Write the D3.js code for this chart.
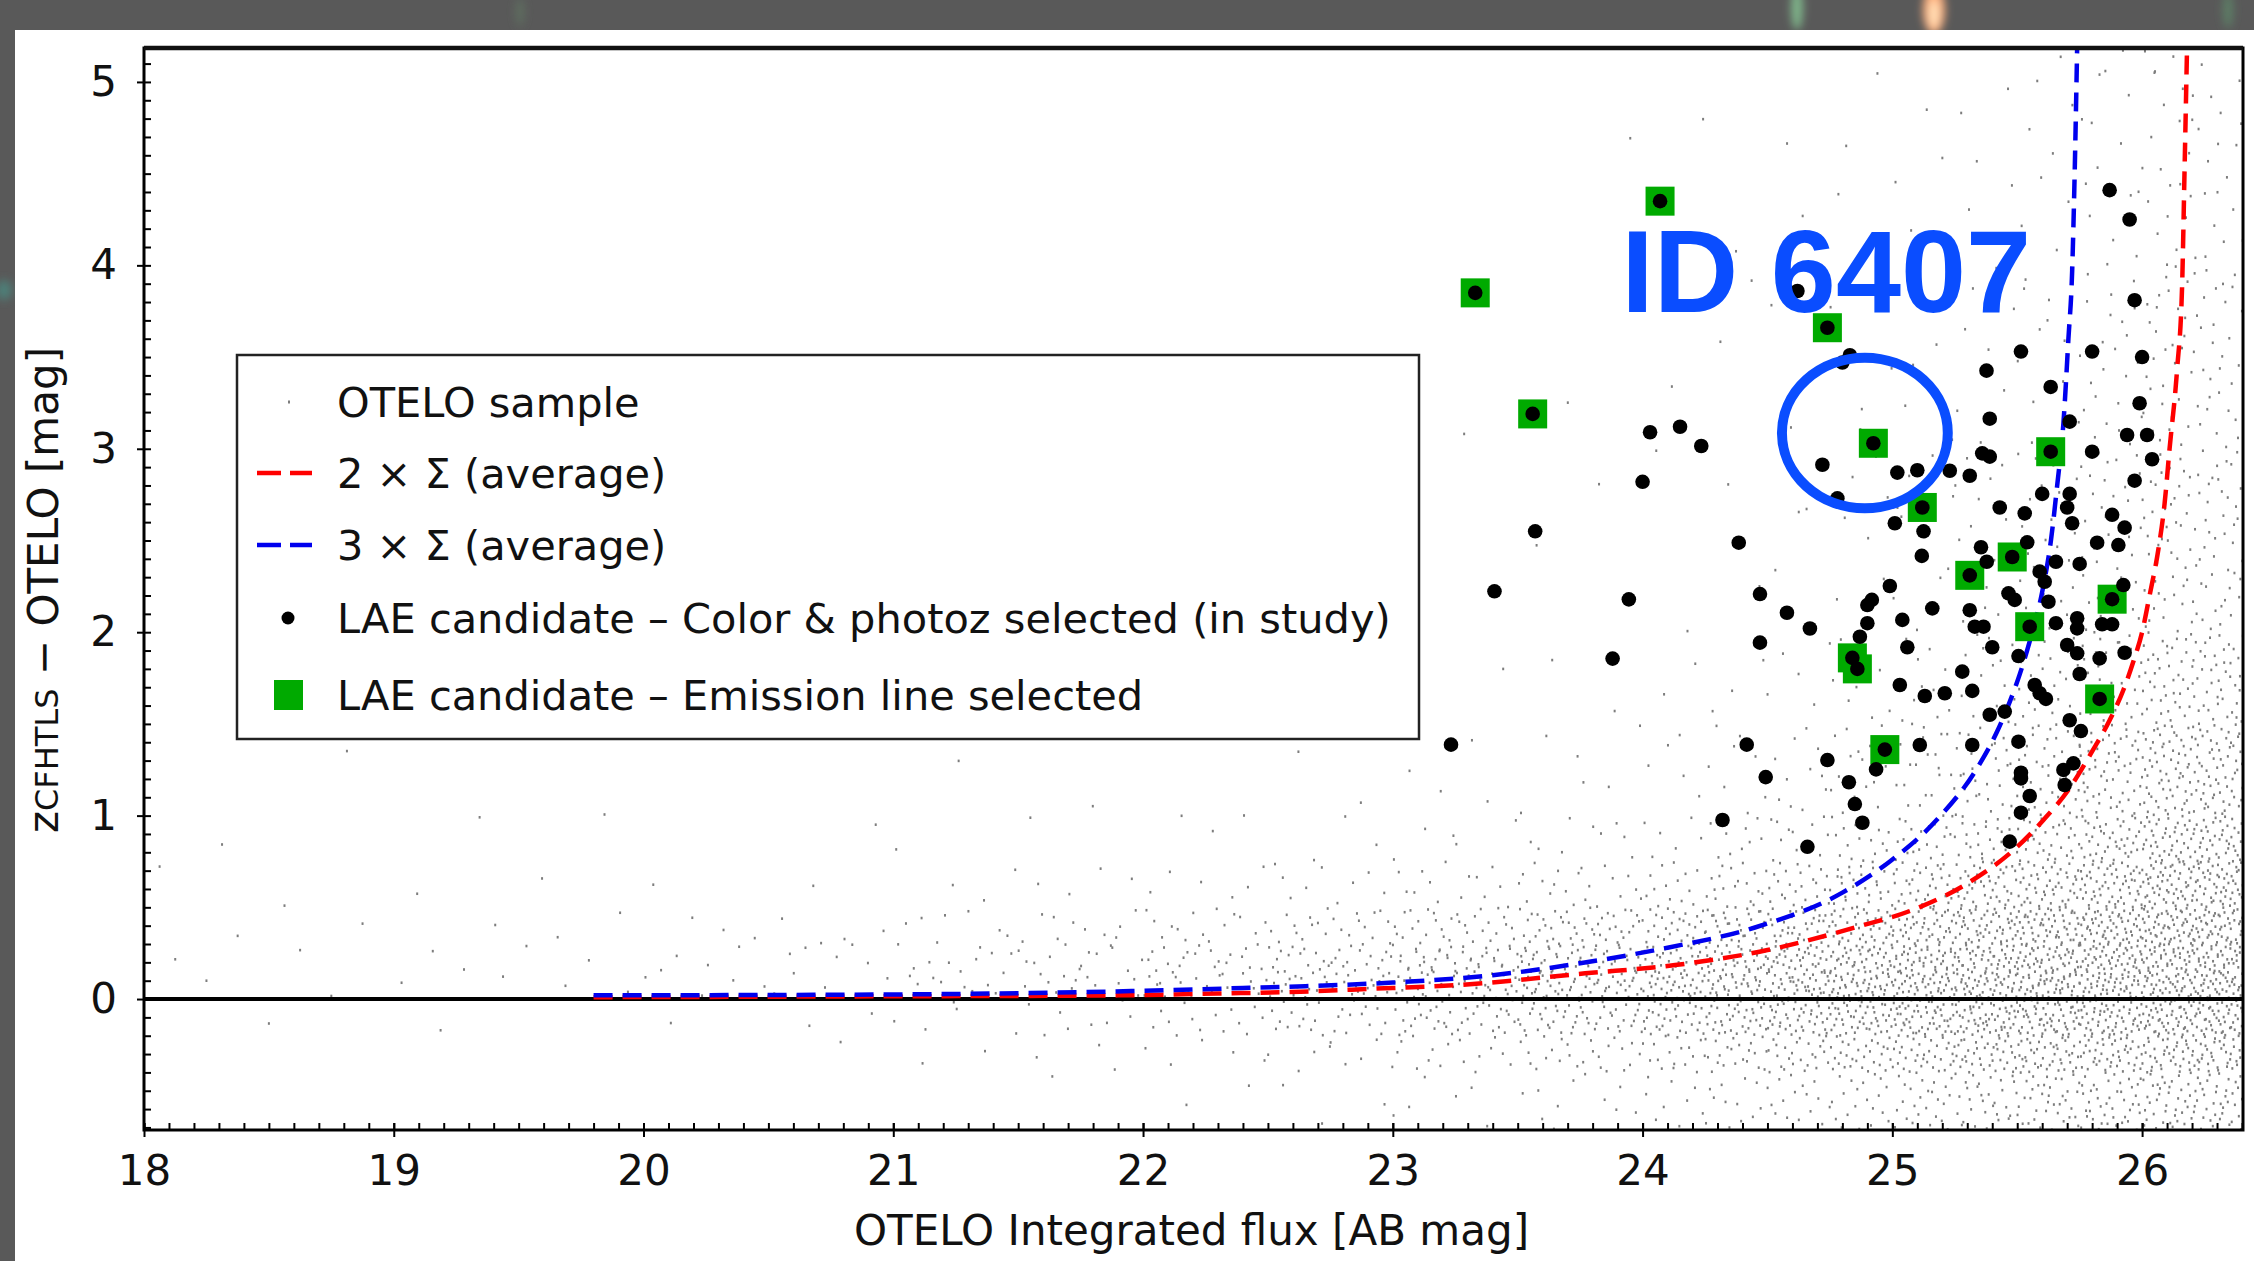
<!DOCTYPE html>
<html>
<head>
<meta charset="utf-8">
<script src="https://cdn.jsdelivr.net/npm/d3@7"></script>
<style>
  html, body { margin: 0; padding: 0; background: #595959; overflow: hidden; }
  svg { display: block; }
</style>
</head>
<body>
<svg id="chart" width="2254" height="1261" font-family="DejaVu Sans, sans-serif"></svg>
<script>
// === Data ===

// LAE candidates – colour & photo-z selected (black dots) [mag, colour]
const laeColor = [
  [24.03,3.09],[24.15,3.12],[24.235,3.015],[24.0,2.82],[23.57,2.55],[24.62,3.86],
  [24.83,3.51],[24.80,3.47],
  [25.87,4.41],[25.95,4.25],[25.97,3.81],[25.515,3.53],[25.80,3.53],[26.0,3.50],
  [25.377,3.426],[25.634,3.337],[25.99,3.248],[25.39,3.164],[25.71,3.148],[25.94,3.075],
  [26.02,3.075],[25.36,2.975],[25.39,2.957],[25.80,2.984],[26.04,2.943],[24.72,2.913],
  [25.02,2.87],[25.10,2.883],[25.23,2.88],[25.31,2.853],[25.97,2.826],[24.78,2.73],
  [25.60,2.754],[25.71,2.754],[25.43,2.68],[25.53,2.648],[25.70,2.68],[25.88,2.64],
  [25.93,2.57],[25.01,2.594],[25.72,2.594],
  [24.385,2.488],[23.407,2.223],[23.945,2.179],[24.47,2.208],[24.578,2.106],[24.67,2.02],
  [24.47,1.943],[23.88,1.856],[23.233,1.387],[24.417,1.387],[24.493,1.21],[24.32,0.976],
  [24.66,0.83],
  [25.125,2.55],[25.82,2.488],[25.905,2.475],[25.54,2.49],[25.355,2.463],[25.118,2.416],
  [25.378,2.384],[25.655,2.384],[25.75,2.372],[25.59,2.33],[25.61,2.275],[24.99,2.252],
  [24.918,2.176],[24.90,2.148],[25.465,2.212],[25.49,2.176],[25.625,2.166],[25.925,2.257],
  [25.16,2.13],[25.31,2.12],[25.04,2.067],[24.90,2.049],[25.33,2.03],[25.365,2.03],
  [25.655,2.049],[25.74,2.076],[25.74,2.021],[25.84,2.043],[25.88,2.043],[24.87,1.975],
  [25.06,1.918],[25.40,1.918],[25.70,1.93],[25.74,1.885],[25.83,1.857],[25.93,1.888],
  [25.505,1.87],[25.28,1.785],[25.75,1.772],[25.03,1.712],[25.13,1.652],[25.21,1.667],
  [25.32,1.68],[25.57,1.712],[25.59,1.667],[25.615,1.636],[25.39,1.55],[25.45,1.567],
  [25.71,1.52],[25.755,1.461],[24.74,1.303],[24.826,1.182],[24.85,1.063],[24.88,0.961],
  [24.935,1.252],[25.11,1.385],[25.32,1.385],[25.505,1.403],[25.515,1.234],[25.515,1.203],
  [25.685,1.249],[25.725,1.285],[25.69,1.167],[25.55,1.107],[25.515,1.016],[25.47,0.858]
];

// LAE candidates – emission line selected (green squares)
const laeEmission = [
  [24.07,4.35],[23.33,3.85],[24.74,3.66],[23.56,3.19],[24.924,3.03],[25.634,2.984],
  [25.12,2.68],[25.48,2.41],[25.31,2.31],[25.88,2.18],[25.55,2.03],[24.84,1.86],
  [24.86,1.80],[25.83,1.636],[24.97,1.36]
];

// 2 x Sigma (average) and 3 x Sigma (average) curves
const sigma2 = [
  [19.8,0.01],[21.0,0.015],[21.9,0.02],[22.3,0.03],[22.63,0.04],[22.9,0.055],[23.26,0.076],
  [23.77,0.14],[24.13,0.185],[24.5,0.267],[24.86,0.394],[25.08,0.485],[25.3,0.63],
  [25.5,0.83],[25.605,0.976],[25.71,1.15],[25.8,1.35],[25.87,1.52],[25.925,1.685],
  [25.965,1.84],[26.0,2.0],[26.03,2.2],[26.065,2.45],[26.09,2.7],[26.11,3.0],
  [26.14,3.43],[26.16,3.88],[26.17,4.52],[26.18,5.19]
];
const sigma3 = [
  [19.8,0.02],[20.5,0.022],[21.0,0.025],[21.4,0.03],[22.0,0.045],[22.4,0.06],[22.65,0.07],
  [23.0,0.09],[23.4,0.13],[23.75,0.195],[24.1,0.28],[24.45,0.39],[24.8,0.58],
  [24.99,0.75],[25.18,0.98],[25.34,1.26],[25.42,1.46],[25.47,1.62],[25.51,1.77],
  [25.55,1.95],[25.6,2.22],[25.635,2.5],[25.66,2.8],[25.685,3.14],[25.705,3.6],
  [25.72,3.97],[25.73,4.5],[25.74,5.19]
];

// OTELO sample: estimated source density (per mag^2) on a coarse grid
const grayXEdges = [18,19,20,20.5,21,21.5,22,22.5,23,23.5,24,24.25,24.5,24.75,25,25.25,25.5,25.75,26,26.404];
const grayYEdges = [-0.714,-0.4,-0.2,0,0.15,0.3,0.5,0.75,1.0,1.5,2.0,3.0,4.0,5.185];
const grayDensity = [
  [0,0,3,15,15,10,6,4,2,0.5,0,0,0],
  [0,2,5,25,25,15,6,3,1,0.5,0,0,0],
  [0,4,10,50,50,30,8,3,1,0,0,0,0],
  [2,6,15,70,70,40,10,4,1,0.5,0,0,0],
  [3,15,50,130,120,70,20,6,2,1,0.2,0,0],
  [5,25,80,200,170,100,30,10,3,1,0.5,0.2,0],
  [10,50,150,320,260,150,45,15,5,2,1,0.3,0.2],
  [20,90,250,450,380,220,70,25,8,3,1.5,0.5,0.3],
  [40,160,380,600,520,320,110,40,14,5,2,1,0.5],
  [70,250,520,800,680,450,170,70,25,9,4,2,1.5],
  [110,330,650,950,800,560,230,100,40,15,6,4,3],
  [150,420,780,1050,900,650,300,150,60,25,12,7,5],
  [200,500,900,1150,1000,750,380,200,90,40,18,10,7],
  [260,600,1000,1250,1100,850,460,260,130,60,28,15,10],
  [330,700,1100,1300,1150,950,560,340,180,90,42,22,14],
  [400,780,1150,1350,1200,1050,680,430,250,130,65,35,20],
  [480,850,1200,1400,1250,1150,800,550,350,190,95,50,30],
  [550,900,1200,1400,1300,1250,950,700,480,280,150,90,50],
  [600,950,1250,1400,1350,1300,1100,850,650,420,230,150,85]
];

const xMajor = [18,19,20,21,22,23,24,25,26];
const yMajor = [0,1,2,3,4,5];

const legendItems = [
  {type: 'sample', label: 'OTELO sample'},
  {type: 'line', color: '#ff0000', label: '2 × Σ (average)'},
  {type: 'line', color: '#0000ee', label: '3 × Σ (average)'},
  {type: 'dot', label: 'LAE candidate – Color & photoz selected (in study)'},
  {type: 'square', label: 'LAE candidate – Emission line selected'}
];

// annotation: object ID 6407 (data coordinates)
const annot = {label: 'ID 6407', tx: 23.915, ty: 3.746, cx: 24.89, cy: 3.086, rx: 0.332, ry: 0.41};

// === Layout ===
const svg = d3.select('#chart');
const plot = {left: 144, right: 2243, top: 48, bottom: 1130};

const x = d3.scaleLinear().domain([18, 26.404]).range([plot.left, plot.right]);
const y = d3.scaleLinear().domain([-0.714, 5.185]).range([plot.bottom, plot.top]);

// background photo border + a few blurred stars peeking out on top
const defs = svg.append('defs');
defs.append('filter').attr('id', 'blur').append('feGaussianBlur').attr('stdDeviation', 4);
defs.append('clipPath').attr('id', 'plotClip').append('rect')
    .attr('x', plot.left).attr('y', plot.top)
    .attr('width', plot.right - plot.left).attr('height', plot.bottom - plot.top);

svg.append('rect').attr('width', 2254).attr('height', 1261).attr('fill', '#595959');
const stars = [
  {x: 1797, y: 8, rx: 6, ry: 22, c: '#7fb58a'},
  {x: 1934, y: 10, rx: 11, ry: 24, c: '#ffae7a'},
  {x: 1934, y: 14, rx: 5, ry: 14, c: '#ffe0b8'},
  {x: 2228, y: 10, rx: 5, ry: 18, c: '#5d7f66'},
  {x: 520, y: 12, rx: 4, ry: 14, c: '#5f6f60'},
  {x: 4, y: 290, rx: 8, ry: 10, c: '#4e7f78'}
];
svg.append('g').attr('filter', 'url(#blur)')
  .selectAll('ellipse').data(stars).join('ellipse')
    .attr('cx', d => d.x).attr('cy', d => d.y)
    .attr('rx', d => d.rx).attr('ry', d => d.ry)
    .attr('fill', d => d.c);

svg.append('rect').attr('x', 15).attr('y', 30)
    .attr('width', 2254 - 15).attr('height', 1261 - 30).attr('fill', '#ffffff');

// === OTELO sample cloud ===
function halton(i, b) {
  let f = 1, r = 0;
  while (i > 0) { f /= b; r += f * (i % b); i = Math.floor(i / b); }
  return r;
}
const samplePts = [];
let k = 1;
grayDensity.forEach((row, i) => {
  const x0 = grayXEdges[i], x1 = grayXEdges[i + 1];
  row.forEach((dens, j) => {
    const y0 = grayYEdges[j], y1 = grayYEdges[j + 1];
    const n = Math.round(dens * (x1 - x0) * (y1 - y0));
    for (let m = 0; m < n; m++, k++) {
      samplePts.push([x0 + halton(k, 2) * (x1 - x0), y0 + halton(k, 3) * (y1 - y0)]);
    }
  });
});

const plotG = svg.append('g').attr('clip-path', 'url(#plotClip)');

plotG.append('g')
  .selectAll('rect').data(samplePts).join('rect')
    .attr('x', d => x(d[0]) - 1).attr('y', d => y(d[1]) - 1.3)
    .attr('width', 2).attr('height', 2.6).attr('fill', '#7d7d7d');

// zero line
plotG.append('line')
    .attr('x1', plot.left).attr('x2', plot.right)
    .attr('y1', y(0)).attr('y2', y(0))
    .attr('stroke', '#000').attr('stroke-width', 4);

// sigma curves
const line = d3.line().x(d => x(d[0])).y(d => y(d[1])).curve(d3.curveMonotoneX);
[[sigma2, '#ff0000'], [sigma3, '#0000ee']].forEach(([data, color]) => {
  plotG.append('path').datum(data)
      .attr('d', line)
      .attr('fill', 'none')
      .attr('stroke', color)
      .attr('stroke-width', 4.5)
      .attr('stroke-dasharray', '19,10');
});

// emission-line candidates
plotG.append('g')
  .selectAll('rect').data(laeEmission).join('rect')
    .attr('x', d => x(d[0]) - 14.5).attr('y', d => y(d[1]) - 14.5)
    .attr('width', 29).attr('height', 29)
    .attr('fill', '#00aa00');

// colour & photo-z candidates (also marks centre of each green square)
plotG.append('g')
  .selectAll('circle').data(laeColor.concat(laeEmission)).join('circle')
    .attr('cx', d => x(d[0])).attr('cy', d => y(d[1]))
    .attr('r', 7.3).attr('fill', '#000');

// === Axes ===
const xMinor = d3.range(180, 265).map(d => d / 10);
const yMinor = d3.range(-7, 52).map(d => d / 10);

function styleAxis(g) {
  g.select('.domain').remove();
  g.attr('font-family', 'DejaVu Sans, sans-serif').attr('font-size', 42);
  g.selectAll('.tick line').attr('stroke', '#000').attr('stroke-width', 2);
  g.selectAll('.tick text').attr('fill', '#111');
}

svg.append('g').attr('transform', `translate(0,${plot.bottom})`)
  .call(d3.axisBottom(x).tickValues(xMinor).tickSize(-7).tickFormat(''))
  .call(styleAxis);
svg.append('g').attr('transform', `translate(0,${plot.bottom})`)
  .call(d3.axisBottom(x).tickValues(xMajor).tickSize(7).tickPadding(18).tickFormat(d3.format('d')))
  .call(styleAxis);
svg.append('g').attr('transform', `translate(0,${plot.bottom})`)
  .call(d3.axisBottom(x).tickValues(xMajor).tickSize(-7).tickFormat(''))
  .call(styleAxis);

svg.append('g').attr('transform', `translate(${plot.left},0)`)
  .call(d3.axisLeft(y).tickValues(yMinor).tickSize(-7).tickFormat(''))
  .call(styleAxis);
svg.append('g').attr('transform', `translate(${plot.left},0)`)
  .call(d3.axisLeft(y).tickValues(yMajor).tickSize(7).tickPadding(20).tickFormat(d3.format('d')))
  .call(styleAxis);

// frame
svg.append('rect')
    .attr('x', plot.left).attr('y', plot.top)
    .attr('width', plot.right - plot.left).attr('height', plot.bottom - plot.top)
    .attr('fill', 'none').attr('stroke', '#000').attr('stroke-width', 3);
svg.append('line')
    .attr('x1', plot.left).attr('x2', plot.right)
    .attr('y1', plot.top).attr('y2', plot.top)
    .attr('stroke', '#111').attr('stroke-width', 4.5);

// axis labels
svg.append('text')
    .attr('x', (plot.left + plot.right) / 2 - 2).attr('y', 1245)
    .attr('text-anchor', 'middle').attr('font-size', 42).attr('fill', '#111')
    .text('OTELO Integrated flux [AB mag]');

const yl = svg.append('text')
    .attr('transform', 'translate(58,590) rotate(-90)')
    .attr('text-anchor', 'middle').attr('font-size', 42).attr('fill', '#111');
yl.append('tspan').text('z');
yl.append('tspan').attr('font-size', 32).text('CFHTLS');
yl.append('tspan').text(' − OTELO [mag]');

// === Legend ===
const lg = svg.append('g');
lg.append('rect').attr('x', 237).attr('y', 355).attr('width', 1182).attr('height', 384)
    .attr('fill', '#fff').attr('stroke', '#222').attr('stroke-width', 2.5);
const rowY = [402, 473, 545, 618, 695];
legendItems.forEach((it, i) => {
  const cy = rowY[i];
  if (it.type === 'sample') {
    lg.append('rect').attr('x', 288).attr('y', cy - 1.5).attr('width', 2).attr('height', 3).attr('fill', '#7d7d7d');
  } else if (it.type === 'line') {
    lg.append('line').attr('x1', 257).attr('x2', 312).attr('y1', cy).attr('y2', cy)
        .attr('stroke', it.color).attr('stroke-width', 4.5).attr('stroke-dasharray', '24,9');
  } else if (it.type === 'dot') {
    lg.append('circle').attr('cx', 288).attr('cy', cy).attr('r', 6.5).attr('fill', '#000');
  } else {
    lg.append('rect').attr('x', 274).attr('y', cy - 15).attr('width', 29).attr('height', 30)
        .attr('fill', '#00aa00');
  }
  lg.append('text').attr('x', 337).attr('y', cy + 15)
      .attr('font-size', 41.5).attr('fill', '#111').text(it.label);
});

// === Annotation ===
svg.append('text')
    .attr('x', x(annot.tx)).attr('y', y(annot.ty))
    .attr('font-family', 'Liberation Sans, Arial, sans-serif')
    .attr('font-weight', 'bold').attr('font-size', 117)
    .attr('fill', '#0a4dff').text(annot.label);
svg.append('ellipse')
    .attr('cx', x(annot.cx)).attr('cy', y(annot.cy))
    .attr('rx', x(annot.cx + annot.rx) - x(annot.cx))
    .attr('ry', y(annot.cy) - y(annot.cy + annot.ry))
    .attr('fill', 'none').attr('stroke', '#0a4dff').attr('stroke-width', 10);
</script>
</body>
</html>
